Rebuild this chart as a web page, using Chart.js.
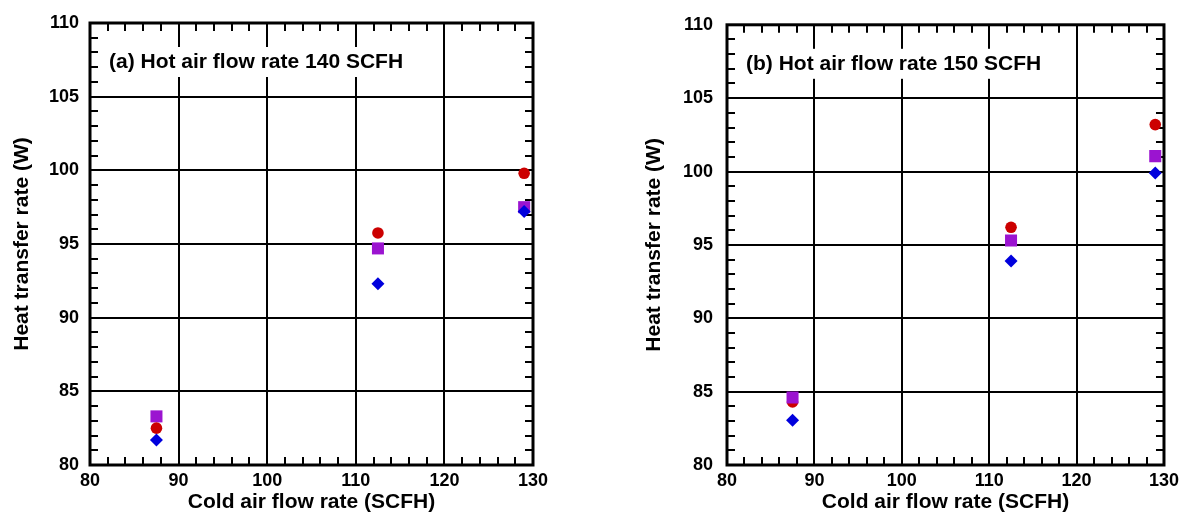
<!DOCTYPE html>
<html>
<head>
<meta charset="utf-8">
<script src="https://cdn.jsdelivr.net/npm/chart.js@4.4.1/dist/chart.umd.min.js"></script>
<style>
  html, body { margin: 0; padding: 0; background: #fff; }
  #wrap { position: relative; width: 1184px; height: 515px; }
  .panel { position: absolute; top: 0; width: 592px; height: 515px; }
</style>
</head>
<body>
<div id="wrap">
  <div class="panel" style="left:0"><canvas id="chartA" width="592" height="515"></canvas></div>
  <div class="panel" style="left:592px"><canvas id="chartB" width="592" height="515"></canvas></div>
</div>
<script>
// cold air flow rate (SCFH) for each measurement
const coldFlow = [87.5, 112.5, 129.0];

// (a) hot air flow rate 140 SCFH
const a_circle = [82.5, 95.75, 99.8];
const a_square = [83.3, 94.7, 97.5];
const a_diamond = [81.7, 92.3, 97.2];

// (b) hot air flow rate 150 SCFH
const b_circle = [84.3, 96.2, 103.2];
const b_square = [84.6, 95.3, 101.05];
const b_diamond = [83.05, 93.9, 99.9];

const xTicks = [80, 90, 100, 110, 120, 130];
const yTicks = [80, 85, 90, 95, 100, 105, 110];

const FONT = "'Liberation Sans', Arial, Helvetica, sans-serif";

function toPoints(ys) {
    return coldFlow.map((x, i) => ({ x: x, y: ys[i] }));
}

// frame, inward minor ticks and the panel caption
const framePlugin = {
    id: 'frame',
    beforeDatasetsDraw(chart, args, opts) {
        const { ctx, chartArea } = chart;
        const { left, right, top, bottom } = chartArea;
        const xs = chart.scales.x;
        const ys = chart.scales.y;
        ctx.save();

        // white box behind the caption
        ctx.fillStyle = '#fff';
        ctx.fillRect(left + 7, top + 24, 323, 30);
        ctx.fillStyle = '#000';
        ctx.font = 'bold 21px ' + FONT;
        ctx.textBaseline = 'middle';
        ctx.textAlign = 'left';
        ctx.fillText(opts.caption, left + 19, top + 39);

        // minor ticks
        ctx.strokeStyle = '#000';
        ctx.lineWidth = 2;
        ctx.beginPath();
        for (let v = xs.min; v <= xs.max; v += 2) {
            const px = Math.round(xs.getPixelForValue(v));
            ctx.moveTo(px, bottom); ctx.lineTo(px, bottom - 8);
            ctx.moveTo(px, top); ctx.lineTo(px, top + 8);
        }
        for (let v = ys.min; v <= ys.max; v += 1) {
            const py = Math.round(ys.getPixelForValue(v));
            ctx.moveTo(left, py); ctx.lineTo(left + 8, py);
            ctx.moveTo(right, py); ctx.lineTo(right - 8, py);
        }
        ctx.stroke();

        ctx.lineWidth = 3;
        ctx.strokeRect(left, top, right - left, bottom - top);
        ctx.restore();
    }
};

function makeChart(id, caption, circle, square, diamond, layout, squareOnTop) {
    const ctx = document.getElementById(id).getContext('2d');
    return new Chart(ctx, {
        type: 'scatter',
        data: {
            datasets: [
                {
                    label: 'Diamond',
                    data: toPoints(diamond),
                    pointStyle: 'rectRot',
                    pointRadius: 6.5,
                    backgroundColor: '#0000dd',
                    borderColor: '#0000dd',
                    borderWidth: 0,
                    order: 0
                },
                {
                    label: 'Circle',
                    data: toPoints(circle),
                    pointStyle: 'circle',
                    pointRadius: 5.8,
                    backgroundColor: '#cc0000',
                    borderColor: '#cc0000',
                    borderWidth: 0,
                    order: squareOnTop ? 2 : 1
                },
                {
                    label: 'Square',
                    data: toPoints(square),
                    pointStyle: 'rect',
                    pointRadius: 8.5,
                    backgroundColor: '#9b14d0',
                    borderColor: '#9b14d0',
                    borderWidth: 0,
                    order: squareOnTop ? 1 : 2
                }
            ]
        },
        options: {
            responsive: false,
            animation: false,
            events: [],
            layout: { padding: layout.padding },
            plugins: {
                legend: { display: false },
                tooltip: { enabled: false },
                frame: { caption: caption }
            },
            scales: {
                x: {
                    type: 'linear',
                    min: 80,
                    max: 130,
                    afterBuildTicks: (scale) => { scale.ticks = xTicks.map(v => ({ value: v })); },
                    afterFit: (scale) => { scale.height = 50; },
                    grid: { color: '#000', lineWidth: 2, drawTicks: false },
                    border: { display: false },
                    ticks: {
                        color: '#000',
                        padding: 5,
                        maxRotation: 0,
                        font: { family: FONT, size: 18, weight: 'bold' }
                    },
                    title: {
                        display: true,
                        text: 'Cold air flow rate (SCFH)',
                        color: '#000',
                        padding: { top: 0, bottom: 0 },
                        font: { family: FONT, size: 21, weight: 'bold' }
                    }
                },
                y: {
                    type: 'linear',
                    min: 80,
                    max: 110,
                    afterBuildTicks: (scale) => { scale.ticks = yTicks.map(v => ({ value: v })); },
                    afterFit: (scale) => { scale.width = layout.yWidth; },
                    grid: { color: '#000', lineWidth: 2, drawTicks: false },
                    border: { display: false },
                    ticks: {
                        color: '#000',
                        padding: layout.tickPad,
                        font: { family: FONT, size: 18, weight: 'bold' }
                    },
                    title: {
                        display: true,
                        text: 'Heat transfer rate (W)',
                        color: '#000',
                        padding: { top: 10, bottom: 0 },
                        font: { family: FONT, size: 21, weight: 'bold' }
                    }
                }
            }
        },
        plugins: [framePlugin]
    });
}

makeChart('chartA', '(a) Hot air flow rate 140 SCFH', a_circle, a_square, a_diamond,
    { padding: { left: 0, right: 59, top: 23, bottom: 0 }, yWidth: 90, tickPad: 11 }, false);
makeChart('chartB', '(b) Hot air flow rate 150 SCFH', b_circle, b_square, b_diamond,
    { padding: { left: 40, right: 15, top: 23, bottom: 0 }, yWidth: 95, tickPad: 14 }, true);
</script>
</body>
</html>
